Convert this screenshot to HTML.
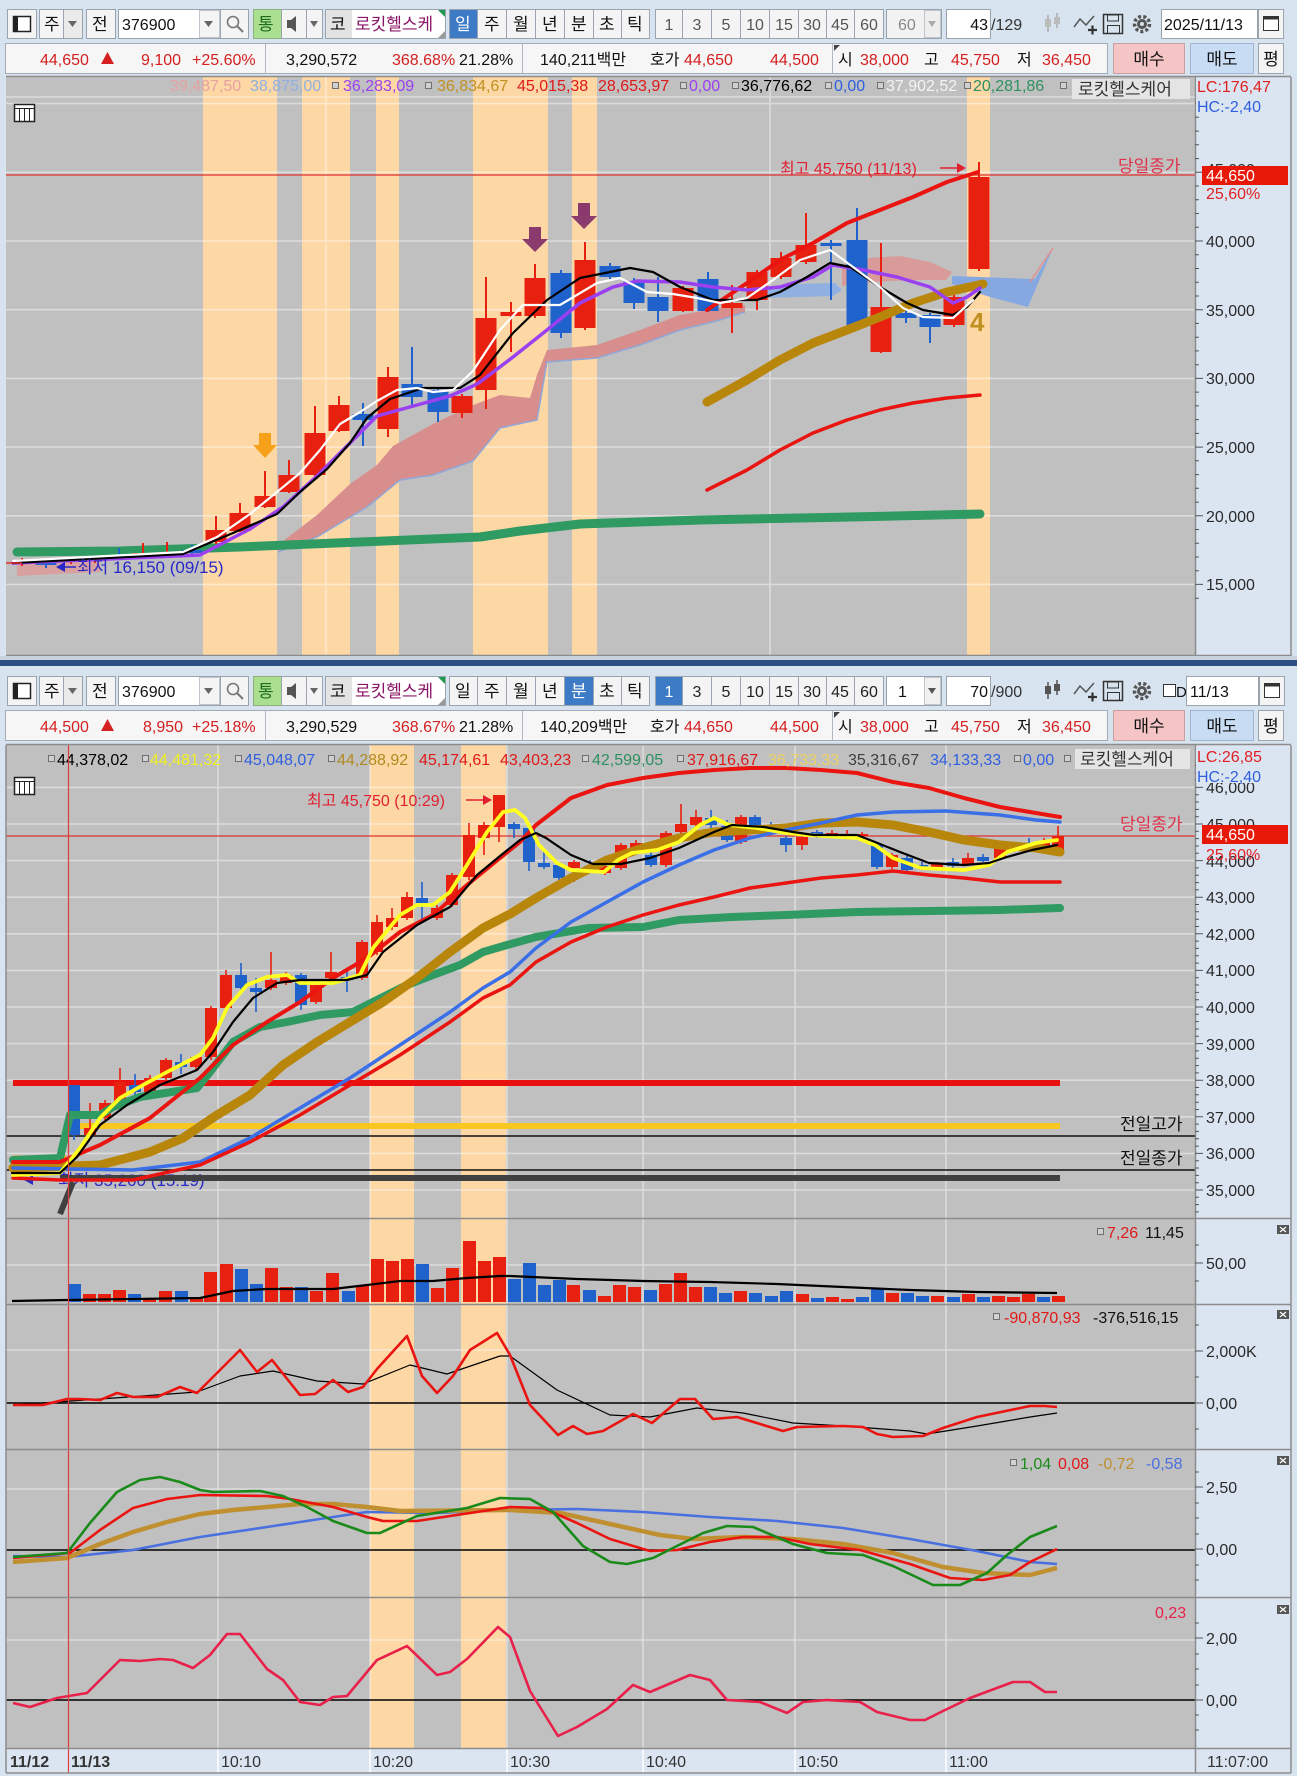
<!DOCTYPE html>
<html><head><meta charset="utf-8">
<style>
html,body{margin:0;padding:0;background:#d8e3f0;width:1297px;height:1776px;overflow:hidden}
svg{display:block}
text{font-family:"Liberation Sans","Noto Sans CJK KR",sans-serif;}
</style></head><body>
<svg xmlns="http://www.w3.org/2000/svg" width="1297" height="1776" viewBox="0 0 1297 1776">
<rect width="1297" height="1776" fill="#d8e3f0"/>

<!-- ================= TOP TOOLBAR ================= -->
<g font-size="17" fill="#111">
 <rect x="7.5" y="9.5" width="29" height="29" fill="#f4f4f4" stroke="#9aa3ae"/>
 <rect x="13.5" y="16.5" width="17" height="15" fill="#fff" stroke="#222" stroke-width="1.5"/>
 <rect x="13" y="16" width="5" height="16" fill="#222"/>
 <rect x="39.5" y="9.5" width="43" height="29" fill="#f4f4f4" stroke="#9aa3ae"/>
 <text x="44" y="30">주</text>
 <rect x="63.5" y="9.5" width="19" height="29" fill="#eaeaea" stroke="#9aa3ae"/>
 <path d="M68 21h9l-4.5 6z" fill="#666"/>
 <rect x="86.5" y="9.5" width="29" height="29" fill="#f4f4f4" stroke="#9aa3ae"/>
 <text x="92" y="30">전</text>
 <rect x="118.5" y="9.5" width="101" height="29" fill="#fff" stroke="#9aa3ae"/>
 <text x="122" y="30" font-size="16">376900</text>
 <rect x="199.5" y="10.5" width="20" height="27" fill="#f4f4f4" stroke="#c0c6ce"/>
 <path d="M204 21h9l-4.5 6z" fill="#666"/>
 <rect x="220.5" y="9.5" width="28" height="29" fill="#f4f4f4" stroke="#9aa3ae"/>
 <circle cx="233" cy="22" r="5.5" fill="none" stroke="#777" stroke-width="1.6"/>
 <path d="M237 26l6 6" stroke="#777" stroke-width="2"/>
 <rect x="253.5" y="9.5" width="28" height="29" fill="#a9df8e" stroke="#8fb07c"/>
 <text x="258" y="30" fill="#1f6b1f">통</text>
 <rect x="281.5" y="9.5" width="25" height="29" fill="#f4f4f4" stroke="#9aa3ae"/>
 <path d="M287 20h4l5-4v16l-5-4h-4z" fill="#555"/>
 <rect x="306.5" y="9.5" width="16" height="29" fill="#f4f4f4" stroke="#9aa3ae"/>
 <path d="M310 21h8l-4 6z" fill="#666"/>
 <rect x="325.5" y="9.5" width="120" height="29" fill="#fff" stroke="#9aa3ae"/>
 <rect x="326" y="10" width="26" height="28" fill="#e3e3e3"/>
 <text x="330" y="30">코</text>
 <text x="355" y="30" fill="#8a1466">로킷헬스케</text>
 <path d="M438 10h7v7z" fill="#1a9a4a"/>
 <path d="M445 31v7h-7z" fill="#999"/>
 <rect x="449.5" y="9.5" width="28" height="29" fill="#3d7bc6" stroke="#9aa3ae"/><text x="455" y="30" fill="#fff">일</text>
 <rect x="477.5" y="9.5" width="29" height="29" fill="#f4f4f4" stroke="#9aa3ae"/><text x="484" y="30">주</text>
 <rect x="506.5" y="9.5" width="29" height="29" fill="#f4f4f4" stroke="#9aa3ae"/><text x="513" y="30">월</text>
 <rect x="535.5" y="9.5" width="29" height="29" fill="#f4f4f4" stroke="#9aa3ae"/><text x="542" y="30">년</text>
 <rect x="564.5" y="9.5" width="29" height="29" fill="#f4f4f4" stroke="#9aa3ae"/><text x="571" y="30">분</text>
 <rect x="593.5" y="9.5" width="28" height="29" fill="#f4f4f4" stroke="#9aa3ae"/><text x="599" y="30">초</text>
 <rect x="621.5" y="9.5" width="28" height="29" fill="#f4f4f4" stroke="#9aa3ae"/><text x="627" y="30">틱</text>
 <g font-size="16" fill="#555" text-anchor="middle">
  <rect x="655.5" y="9.5" width="27" height="29" fill="#f4f4f4" stroke="#9aa3ae"/><text x="669" y="30">1</text>
  <rect x="682.5" y="9.5" width="29" height="29" fill="#f4f4f4" stroke="#9aa3ae"/><text x="697" y="30">3</text>
  <rect x="711.5" y="9.5" width="29" height="29" fill="#f4f4f4" stroke="#9aa3ae"/><text x="726" y="30">5</text>
  <rect x="740.5" y="9.5" width="29" height="29" fill="#f4f4f4" stroke="#9aa3ae"/><text x="755" y="30">10</text>
  <rect x="769.5" y="9.5" width="29" height="29" fill="#f4f4f4" stroke="#9aa3ae"/><text x="784" y="30">15</text>
  <rect x="798.5" y="9.5" width="28" height="29" fill="#f4f4f4" stroke="#9aa3ae"/><text x="812" y="30">30</text>
  <rect x="826.5" y="9.5" width="28" height="29" fill="#f4f4f4" stroke="#9aa3ae"/><text x="840" y="30">45</text>
  <rect x="854.5" y="9.5" width="29" height="29" fill="#f4f4f4" stroke="#9aa3ae"/><text x="869" y="30">60</text>
 </g>
 <rect x="886.5" y="9.5" width="55" height="29" fill="#f2f2f2" stroke="#9aa3ae"/>
 <text x="898" y="30" font-size="16" fill="#888">60</text>
 <rect x="924.5" y="10.5" width="16" height="27" fill="#eee" stroke="#c0c6ce"/>
 <path d="M928 21h8l-4 6z" fill="#aaa"/>
 <rect x="946.5" y="9.5" width="44" height="29" fill="#fff" stroke="#9aa3ae"/>
 <text x="988" y="30" font-size="16" text-anchor="end">43</text>
 <text x="991" y="30" font-size="16" fill="#333">/129</text>
 <path d="M1048 15v17M1057 13v15" stroke="#aaa" stroke-width="1.5"/>
 <rect x="1045" y="19" width="6" height="8" fill="#bbb"/><rect x="1054" y="17" width="6" height="7" fill="#bbb"/>
 <polyline points="1074,27 1080,19 1086,25 1094,16" stroke="#555" stroke-width="1.5" fill="none"/>
 <path d="M1088 30h9M1092.5 25.5v9" stroke="#333" stroke-width="2.2"/>
 <rect x="1103.5" y="14.5" width="19" height="19" fill="none" stroke="#333" stroke-width="1.5"/>
 <rect x="1107.5" y="15" width="11" height="6" fill="none" stroke="#333"/>
 <rect x="1107.5" y="25.5" width="12" height="8" fill="none" stroke="#333"/>
 <circle cx="1142" cy="24" r="7.5" fill="none" stroke="#555" stroke-width="3.5" stroke-dasharray="3 2.2"/>
 <circle cx="1142" cy="24" r="5" fill="#555"/><circle cx="1142" cy="24" r="2" fill="#d8e3f0"/>
 <rect x="1161.5" y="9.5" width="96" height="29" fill="#fff" stroke="#9aa3ae"/>
 <text x="1164" y="30" font-size="16">2025/11/13</text>
 <rect x="1258.5" y="9.5" width="25" height="29" fill="#f4f4f4" stroke="#9aa3ae"/>
 <rect x="1263.5" y="16.5" width="15" height="14" fill="#fff" stroke="#333"/><rect x="1263.5" y="16.5" width="15" height="3" fill="#333"/>
</g>
<!-- info row top -->
<g font-size="16" fill="#111">
 <rect x="5.5" y="43.5" width="1102" height="30" fill="#f6f6f6" stroke="#a3abb6"/>
 <path d="M265.5 44v29M522.5 44v29M832.5 44v29" stroke="#b0b8c2"/>
 <text x="40" y="65" fill="#d42020">44,650</text>
 <path d="M101 64l6.5-12 6.5 12z" fill="#d42020"/>
 <text x="141" y="65" fill="#d42020">9,100</text>
 <text x="192" y="65" fill="#d42020">+25.60%</text>
 <text x="286" y="65">3,290,572</text>
 <text x="392" y="65" fill="#d42020">368.68%</text>
 <text x="459" y="65">21.28%</text>
 <text x="540" y="65">140,211백만</text>
 <text x="650" y="65">호가</text>
 <text x="684" y="65" fill="#d42020">44,650</text>
 <text x="770" y="65" fill="#d42020">44,500</text>
 <path d="M834 45h6l-6 6z" fill="#444"/>
 <text x="838" y="65">시</text>
 <text x="860" y="65" fill="#d42020">38,000</text>
 <text x="924" y="65">고</text>
 <text x="951" y="65" fill="#d42020">45,750</text>
 <text x="1017" y="65">저</text>
 <text x="1042" y="65" fill="#d42020">36,450</text>
 <rect x="1113.5" y="43.5" width="71" height="30" fill="#f5c5c5" stroke="#c8a0a0"/>
 <text x="1149" y="65" text-anchor="middle" font-size="17">매수</text>
 <rect x="1190.5" y="43.5" width="63" height="30" fill="#c8dcf4" stroke="#9fb4d0"/>
 <text x="1222" y="65" text-anchor="middle" font-size="17">매도</text>
 <rect x="1258.5" y="43.5" width="25" height="30" fill="#f4f4f4" stroke="#9aa3ae"/>
 <text x="1271" y="65" text-anchor="middle" font-size="17">평</text>
</g>

<!-- ================= TOP CHART ================= -->
<rect x="5" y="76" width="1287" height="580" fill="#dbe5f2"/>
<rect x="6" y="77" width="1189" height="578" fill="#c0c0c0"/>
<g fill="#fdd7a4">
 <rect x="203" y="77" width="74" height="578"/>
 <rect x="302" y="77" width="48" height="578"/>
 <rect x="376" y="77" width="23" height="578"/>
 <rect x="473" y="77" width="75" height="578"/>
 <rect x="572" y="77" width="25" height="578"/>
 <rect x="967" y="77" width="23" height="578"/>
</g>
<path stroke="#ffffff" stroke-opacity="0.45" stroke-width="1.6" d="M6 97H1195M6 103.6H1195M6 172.3H1195M6 241H1195M6 309.7H1195M6 378.4H1195M6 447.1H1195M6 515.8H1195M6 584.4H1195M326 77V655M770 77V655"/>
<!-- table icon -->
<rect x="14.5" y="104.5" width="20" height="17" fill="#fff" stroke="#222" stroke-width="1.5"/>
<path d="M15 108.5h19M19.5 109v12M24.5 109v12M29.5 109v12" stroke="#222"/>
<!-- price line -->
<path d="M6 175H1195" stroke="#e03030" stroke-width="1.3"/>
<!-- cloud -->
<polygon fill="#d9a0a0" points="17,559 100,559 100,572 17,576"/>
<polygon fill="#d98e8e" points="278,545 317,515 350,484 377,465 393,446 433,424 473,405 500,395 530,398 537,375 547,350 597,345 640,330 680,315 720,308 745,305 745,312 720,320 680,330 640,345 597,358 547,362 537,420 500,428 473,461 433,475 400,480 367,507 317,537 278,552"/>
<polyline fill="none" stroke="#8fa8d8" stroke-width="1.5" points="278,552 317,537 367,507 400,480 433,475 473,461 500,428 537,420 547,362 597,358 640,345 680,330 720,320 745,312"/>
<polygon fill="#8fb0e0" points="755,290 800,284 835,283 842,290 833,296 800,297 755,298"/>
<polygon fill="#d99a9a" points="842,268 870,258 900,256 930,262 952,272 946,280 920,280 890,281 860,283 842,286"/>
<polygon fill="#86a8e0" points="952,276 1035,279 1053,248 1028,307 990,297 952,284"/>
<polyline fill="none" stroke="#e09090" stroke-width="1.5" points="1030,282 1053,248"/>
<!-- green thick -->
<polyline fill="none" stroke="#2f9a62" stroke-width="9" stroke-linecap="round" stroke-linejoin="round" points="17,552 120,551 240,547 360,542 480,537 520,531 580,524 700,520 850,517 980,514"/>
<!-- candles top -->
<path stroke="#e8200f" stroke-width="2" d="M22 558V566M71 558V564M95 557V563M143 543V558M167 542V557M216 516V544M240 503V532M265 471V508M289 460V493M315 406V476M339 396V432M388 367V437M462 394V418M486 277V409M511 302V352M535 264V318M585 242V330M683 286V312M732 285V333M757 270V310M781 252V279M806 213V264M881 243V353M954 295V327M979 162V271"/>
<path fill="#e8200f" d="M11.5 561h21v3h-21zM60.5 560h21v2h-21zM84.5 559h21v2h-21zM132.5 553h21v3h-21zM156.5 552h21v3h-21zM205.5 530h21v12h-21zM229.5 513h21v18h-21zM254.5 496h21v11h-21zM278.5 475h21v17h-21zM304.5 433h21v42h-21zM328.5 405h21v26h-21zM377.5 377h21v52h-21zM451.5 396h21v17h-21zM475.5 318h21v72h-21zM500.5 312h21v4h-21zM524.5 278h21v38h-21zM574.5 260h21v68h-21zM672.5 288h21v23h-21zM721.5 303h21v5h-21zM746.5 272h21v28h-21zM770.5 258h21v19h-21zM795.5 245h21v17h-21zM870.5 307h21v45h-21zM943.5 297h21v28h-21zM968.5 177h21v92h-21z"/>
<path stroke="#1f62cc" stroke-width="2" d="M46 560V568M119 548V560M192 545V556M363 403V446M412 347V405M438 388V422M561 270V338M610 263V280M634 278V309M658 277V322M708 272V312M831 240V300M857 208V327M906 308V323M930 313V343"/>
<path fill="#1f62cc" d="M35.5 562h21v3h-21zM108.5 556h21v2h-21zM181.5 550h21v3h-21zM352.5 414h21v6h-21zM401.5 384h21v13h-21zM427.5 390h21v22h-21zM550.5 273h21v60h-21zM599.5 266h21v11h-21zM623.5 281h21v22h-21zM647.5 297h21v14h-21zM697.5 279h21v32h-21zM820.5 243h21v3h-21zM846.5 240h21v85h-21zM895.5 313h21v5h-21zM919.5 315h21v12h-21z"/>
<!-- lines top -->
<g fill="none" stroke-linecap="round" stroke-linejoin="round">
 <polyline stroke="#ea1410" stroke-width="3.5" points="707,490 747,470 780,450 813,433 847,420 880,410 913,403 947,398 980,395"/>
 <polyline stroke="#ea1410" stroke-width="4" points="707,310 747,283 780,260 813,243 847,223 880,210 913,197 947,182 978,172"/>
 <polyline stroke="#b8860b" stroke-width="9" points="707,402 747,380 780,360 813,343 847,330 880,317 913,303 947,292 983,284"/>
 <polyline stroke="#9b40f0" stroke-width="3.5" points="13,563 200,555 250,529 283,507 317,476 350,443 377,416 417,405 450,396 473,386 480,382 513,357 547,330 580,303 613,287 637,281 680,282 713,287 747,290 780,287 813,277 833,265 863,270 897,277 930,287 953,303 967,297 980,288"/>
 <polyline stroke="#000" stroke-width="2.2" points="13,563 183,554 233,533 277,514 300,492 327,469 350,443 367,418 390,399 423,388 460,388 480,375 513,333 547,300 580,278 630,268 653,272 680,287 713,300 757,300 780,292 807,277 830,263 850,267 880,287 907,303 923,310 953,315 967,307 980,292"/>
 <polyline stroke="#fff" stroke-width="2.2" points="13,561 183,552 217,537 250,514 277,492 300,473 320,450 340,424 360,412 377,401 397,390 417,388 433,392 453,390 473,371 500,330 523,305 560,305 597,283 620,278 647,292 673,294 697,298 720,303 747,298 773,280 800,260 830,250 853,267 880,287 903,308 923,317 953,318 973,300"/>
</g>
<!-- arrows -->
<path d="M259 433h12v12h6l-12 13-12-13h6z" fill="#f7a01a"/>
<path d="M529 227h12v12h7l-13 13-13-13h7z" fill="#8b3a6e"/>
<path d="M578 203h12v13h7l-13 13-13-13h7z" fill="#8b3a6e"/>
<text x="970" y="331" font-size="26" font-weight="bold" fill="#c09020">4</text>
<!-- annotations -->
<path d="M6 563h16" stroke="#e03030" stroke-width="1.5"/>
<path d="M56 567l9-5v10z" fill="#2828c8"/><path d="M62 567h14" stroke="#2828c8" stroke-width="1.5"/>
<text x="77" y="573" font-size="17" fill="#2828c8">최저 16,150 (09/15)</text>
<text x="780" y="174" font-size="16" fill="#e02030">최고 45,750 (11/13)</text>
<path d="M940 168h20" stroke="#e02030" stroke-width="1.6"/><path d="M957 163l9 5-9 5z" fill="#e02030"/>
<text x="1118" y="172" font-size="17" fill="#e0304a">당일종가</text>
<!-- top legend -->
<g font-size="16">
 <text x="170" y="91" fill="#e6a2a2">39,487,50</text>
 <text x="250" y="91" fill="#90b0e0">38,875,00</text>
 <rect x="332.5" y="82.5" width="6" height="6" fill="#d0d0d0" stroke="#707070"/>
 <text x="343" y="91" fill="#9b3ff0">36,283,09</text>
 <rect x="425.5" y="82.5" width="6" height="6" fill="#d0d0d0" stroke="#707070"/>
 <text x="437" y="91" fill="#c09020">36,834,67</text>
 <text x="517" y="91" fill="#e01818">45,015,38</text>
 <text x="598" y="91" fill="#e01818">28,653,97</text>
 <rect x="680.5" y="82.5" width="6" height="6" fill="#d0d0d0" stroke="#707070"/>
 <text x="689" y="91" fill="#9b3ff0">0,00</text>
 <rect x="732.5" y="82.5" width="6" height="6" fill="#d0d0d0" stroke="#707070"/>
 <text x="741" y="91" fill="#000">36,776,62</text>
 <rect x="825.5" y="82.5" width="6" height="6" fill="#d0d0d0" stroke="#707070"/>
 <text x="834" y="91" fill="#2f5fe0">0,00</text>
 <rect x="877.5" y="82.5" width="6" height="6" fill="#d0d0d0" stroke="#707070"/>
 <text x="886" y="91" fill="#f4f4f4">37,902,52</text>
 <rect x="964.5" y="82.5" width="6" height="6" fill="#d0d0d0" stroke="#707070"/>
 <text x="973" y="91" fill="#2e9060">20,281,86</text>
 <rect x="1060.5" y="82.5" width="6" height="6" fill="#d0d0d0" stroke="#707070"/>
 <rect x="1072" y="79" width="118" height="20" fill="#e4e4e4"/>
 <text x="1078" y="95" font-size="17" fill="#333">로킷헬스케어</text>
</g>
<!-- top axis -->
<path stroke="#8c8c8c" stroke-width="1.5" d="M6 76.5H1291M6 655.5H1291M1195.5 77V655M1291 77V656"/>
<path stroke="#555" d="M1195 103.6h8M1195 172.3h8M1195 241h8M1195 309.7h8M1195 378.4h8M1195 447.1h8M1195 515.8h8M1195 584.4h8M1195 598.2h4M1195 570.8h4M1195 557h4M1195 543.3h4M1195 529.5h4M1195 502.1h4M1195 488.3h4M1195 474.6h4M1195 460.8h4M1195 433.4h4M1195 419.6h4M1195 405.9h4M1195 392.1h4M1195 364.7h4M1195 350.9h4M1195 337.2h4M1195 323.4h4M1195 296h4M1195 282.2h4M1195 268.5h4M1195 254.7h4M1195 227.3h4M1195 213.5h4M1195 199.8h4M1195 186h4M1195 158.6h4M1195 144.8h4M1195 131.1h4M1195 117.3h4"/>
<g font-size="16" fill="#2a2a2a">
 <text x="1206" y="175">45,000</text>
 <text x="1206" y="247">40,000</text>
 <text x="1206" y="316">35,000</text>
 <text x="1206" y="384">30,000</text>
 <text x="1206" y="453">25,000</text>
 <text x="1206" y="522">20,000</text>
 <text x="1206" y="590">15,000</text>
</g>
<rect x="1202" y="166" width="86" height="19" fill="#e81808"/>
<text x="1206" y="181" font-size="16" fill="#fff">44,650</text>
<text x="1206" y="199" font-size="16" fill="#e02020">25,60%</text>
<rect x="1196" y="78" width="94" height="37" fill="#dbe5f2"/>
<text x="1197" y="92" font-size="16" fill="#e02020">LC:176,47</text>
<text x="1197" y="112" font-size="16" fill="#2f5fe0">HC:-2,40</text>

<!-- separator -->
<rect x="0" y="656" width="1297" height="4" fill="#c9d2dc"/>
<rect x="0" y="660" width="1297" height="6" fill="#2e4f82"/>

<!-- ================= BOTTOM TOOLBAR ================= -->
<g transform="translate(0,667)" font-size="17" fill="#111">
 <rect x="7.5" y="9.5" width="29" height="29" fill="#f4f4f4" stroke="#9aa3ae"/>
 <rect x="13.5" y="16.5" width="17" height="15" fill="#fff" stroke="#222" stroke-width="1.5"/>
 <rect x="13" y="16" width="5" height="16" fill="#222"/>
 <rect x="39.5" y="9.5" width="43" height="29" fill="#f4f4f4" stroke="#9aa3ae"/>
 <text x="44" y="30">주</text>
 <rect x="63.5" y="9.5" width="19" height="29" fill="#eaeaea" stroke="#9aa3ae"/>
 <path d="M68 21h9l-4.5 6z" fill="#666"/>
 <rect x="86.5" y="9.5" width="29" height="29" fill="#f4f4f4" stroke="#9aa3ae"/>
 <text x="92" y="30">전</text>
 <rect x="118.5" y="9.5" width="101" height="29" fill="#fff" stroke="#9aa3ae"/>
 <text x="122" y="30" font-size="16">376900</text>
 <rect x="199.5" y="10.5" width="20" height="27" fill="#f4f4f4" stroke="#c0c6ce"/>
 <path d="M204 21h9l-4.5 6z" fill="#666"/>
 <rect x="220.5" y="9.5" width="28" height="29" fill="#f4f4f4" stroke="#9aa3ae"/>
 <circle cx="233" cy="22" r="5.5" fill="none" stroke="#777" stroke-width="1.6"/>
 <path d="M237 26l6 6" stroke="#777" stroke-width="2"/>
 <rect x="253.5" y="9.5" width="28" height="29" fill="#a9df8e" stroke="#8fb07c"/>
 <text x="258" y="30" fill="#1f6b1f">통</text>
 <rect x="281.5" y="9.5" width="25" height="29" fill="#f4f4f4" stroke="#9aa3ae"/>
 <path d="M287 20h4l5-4v16l-5-4h-4z" fill="#555"/>
 <rect x="306.5" y="9.5" width="16" height="29" fill="#f4f4f4" stroke="#9aa3ae"/>
 <path d="M310 21h8l-4 6z" fill="#666"/>
 <rect x="325.5" y="9.5" width="120" height="29" fill="#fff" stroke="#9aa3ae"/>
 <rect x="326" y="10" width="26" height="28" fill="#e3e3e3"/>
 <text x="330" y="30">코</text>
 <text x="355" y="30" fill="#8a1466">로킷헬스케</text>
 <path d="M438 10h7v7z" fill="#1a9a4a"/>
 <path d="M445 31v7h-7z" fill="#999"/>
 <rect x="449.5" y="9.5" width="28" height="29" fill="#f4f4f4" stroke="#9aa3ae"/><text x="455" y="30">일</text>
 <rect x="477.5" y="9.5" width="29" height="29" fill="#f4f4f4" stroke="#9aa3ae"/><text x="484" y="30">주</text>
 <rect x="506.5" y="9.5" width="29" height="29" fill="#f4f4f4" stroke="#9aa3ae"/><text x="513" y="30">월</text>
 <rect x="535.5" y="9.5" width="29" height="29" fill="#f4f4f4" stroke="#9aa3ae"/><text x="542" y="30">년</text>
 <rect x="564.5" y="9.5" width="29" height="29" fill="#3d7bc6" stroke="#9aa3ae"/><text x="571" y="30" fill="#fff">분</text>
 <rect x="593.5" y="9.5" width="28" height="29" fill="#f4f4f4" stroke="#9aa3ae"/><text x="599" y="30">초</text>
 <rect x="621.5" y="9.5" width="28" height="29" fill="#f4f4f4" stroke="#9aa3ae"/><text x="627" y="30">틱</text>
 <g font-size="16" fill="#222" text-anchor="middle">
  <rect x="655.5" y="9.5" width="27" height="29" fill="#3d7bc6" stroke="#9aa3ae"/><text x="669" y="30" fill="#fff">1</text>
  <rect x="682.5" y="9.5" width="29" height="29" fill="#f4f4f4" stroke="#9aa3ae"/><text x="697" y="30">3</text>
  <rect x="711.5" y="9.5" width="29" height="29" fill="#f4f4f4" stroke="#9aa3ae"/><text x="726" y="30">5</text>
  <rect x="740.5" y="9.5" width="29" height="29" fill="#f4f4f4" stroke="#9aa3ae"/><text x="755" y="30">10</text>
  <rect x="769.5" y="9.5" width="29" height="29" fill="#f4f4f4" stroke="#9aa3ae"/><text x="784" y="30">15</text>
  <rect x="798.5" y="9.5" width="28" height="29" fill="#f4f4f4" stroke="#9aa3ae"/><text x="812" y="30">30</text>
  <rect x="826.5" y="9.5" width="28" height="29" fill="#f4f4f4" stroke="#9aa3ae"/><text x="840" y="30">45</text>
  <rect x="854.5" y="9.5" width="29" height="29" fill="#f4f4f4" stroke="#9aa3ae"/><text x="869" y="30">60</text>
 </g>
 <rect x="886.5" y="9.5" width="55" height="29" fill="#fff" stroke="#9aa3ae"/>
 <text x="898" y="30" font-size="16">1</text>
 <rect x="924.5" y="10.5" width="16" height="27" fill="#f0f0f0" stroke="#c0c6ce"/>
 <path d="M928 21h8l-4 6z" fill="#555"/>
 <rect x="946.5" y="9.5" width="44" height="29" fill="#fff" stroke="#9aa3ae"/>
 <text x="988" y="30" font-size="16" text-anchor="end">70</text>
 <text x="991" y="30" font-size="16" fill="#333">/900</text>
 <path d="M1048 15v17M1057 13v15" stroke="#555" stroke-width="1.5"/>
 <rect x="1045" y="19" width="6" height="8" fill="#555"/><rect x="1054" y="17" width="6" height="7" fill="#555"/>
 <polyline points="1074,27 1080,19 1086,25 1094,16" stroke="#555" stroke-width="1.5" fill="none"/>
 <path d="M1088 30h9M1092.5 25.5v9" stroke="#333" stroke-width="2.2"/>
 <rect x="1103.5" y="14.5" width="19" height="19" fill="none" stroke="#333" stroke-width="1.5"/>
 <rect x="1107.5" y="15" width="11" height="6" fill="none" stroke="#333"/>
 <rect x="1107.5" y="25.5" width="12" height="8" fill="none" stroke="#333"/>
 <circle cx="1142" cy="24" r="7.5" fill="none" stroke="#555" stroke-width="3.5" stroke-dasharray="3 2.2"/>
 <circle cx="1142" cy="24" r="5" fill="#555"/><circle cx="1142" cy="24" r="2" fill="#d8e3f0"/>
 <rect x="1163.5" y="17.5" width="12" height="12" fill="#fff" stroke="#333"/>
 <text x="1176" y="30" font-size="15">D</text>
 <rect x="1186.5" y="9.5" width="72" height="29" fill="#fff" stroke="#9aa3ae"/>
 <text x="1190" y="30" font-size="16">11/13</text>
 <rect x="1259.5" y="9.5" width="25" height="29" fill="#f4f4f4" stroke="#9aa3ae"/>
 <rect x="1264.5" y="16.5" width="15" height="14" fill="#fff" stroke="#333"/><rect x="1264.5" y="16.5" width="15" height="3" fill="#333"/>
</g>
<g transform="translate(0,667)" font-size="16" fill="#111">
 <rect x="5.5" y="43.5" width="1102" height="30" fill="#f6f6f6" stroke="#a3abb6"/>
 <path d="M265.5 44v29M522.5 44v29M832.5 44v29" stroke="#b0b8c2"/>
 <text x="40" y="65" fill="#d42020">44,500</text>
 <path d="M101 64l6.5-12 6.5 12z" fill="#d42020"/>
 <text x="143" y="65" fill="#d42020">8,950</text>
 <text x="192" y="65" fill="#d42020">+25.18%</text>
 <text x="286" y="65">3,290,529</text>
 <text x="392" y="65" fill="#d42020">368.67%</text>
 <text x="459" y="65">21.28%</text>
 <text x="540" y="65">140,209백만</text>
 <text x="650" y="65">호가</text>
 <text x="684" y="65" fill="#d42020">44,650</text>
 <text x="770" y="65" fill="#d42020">44,500</text>
 <path d="M834 45h6l-6 6z" fill="#444"/>
 <text x="838" y="65">시</text>
 <text x="860" y="65" fill="#d42020">38,000</text>
 <text x="924" y="65">고</text>
 <text x="951" y="65" fill="#d42020">45,750</text>
 <text x="1017" y="65">저</text>
 <text x="1042" y="65" fill="#d42020">36,450</text>
 <rect x="1113.5" y="43.5" width="71" height="30" fill="#f5c5c5" stroke="#c8a0a0"/>
 <text x="1149" y="65" text-anchor="middle" font-size="17">매수</text>
 <rect x="1190.5" y="43.5" width="63" height="30" fill="#c8dcf4" stroke="#9fb4d0"/>
 <text x="1222" y="65" text-anchor="middle" font-size="17">매도</text>
 <rect x="1258.5" y="43.5" width="25" height="30" fill="#f4f4f4" stroke="#9aa3ae"/>
 <text x="1271" y="65" text-anchor="middle" font-size="17">평</text>
</g>

<!-- ================= BOTTOM CHART ================= -->
<rect x="5" y="744" width="1287" height="1030" fill="#dbe5f2"/>
<rect x="6" y="745" width="1189" height="1003" fill="#c0c0c0"/>
<g fill="#fdd7a4">
 <rect x="370" y="745" width="44" height="1003"/>
 <rect x="461" y="745" width="45" height="1003"/>
</g>
<path stroke="#ffffff" stroke-opacity="0.45" stroke-width="1.6" d="M6 787.4H1195M6 824H1195M6 860.6H1195M6 897.2H1195M6 933.8H1195M6 970.4H1195M6 1007H1195M6 1043.6H1195M6 1080.2H1195M6 1116.8H1195M6 1153.4H1195M6 1190H1195M6 1265H1195M6 1350H1195M6 1489H1195M6 1640H1195M218 745V1773M370 745V1773M507 745V1773M643 745V1773M795 745V1773M946 745V1773"/>
<!-- x axis band -->
<rect x="6" y="1749" width="1285" height="24" fill="#dbe5f2"/>
<path stroke="#ffffff" stroke-width="1.5" d="M218 1749V1773M370 1749V1773M507 1749V1773M643 1749V1773M795 1749V1773M946 1749V1773"/>
<!-- table icon -->
<rect x="14.5" y="777.5" width="20" height="17" fill="#fff" stroke="#222" stroke-width="1.5"/>
<path d="M15 781.5h19M19.5 782v12M24.5 782v12M29.5 782v12" stroke="#222"/>
<!-- price lines / horizontals -->
<path d="M6 836H1195" stroke="#e03030" stroke-width="1.3"/>
<path d="M6 1136H1195M6 1170H1195" stroke="#111" stroke-width="1.4"/>
<text x="58" y="1186" font-size="17" fill="#2828c8">최저 35,200 (15:19)</text>
<path d="M24 1180l9-5v10z" fill="#2828c8"/><path d="M30 1180h15" stroke="#2828c8" stroke-width="1.5"/>
<path d="M13 1083H1060" stroke="#ea1010" stroke-width="6"/>
<path d="M77 1126H1060" stroke="#f8c820" stroke-width="6"/>
<path d="M60 1178H1060" stroke="#404040" stroke-width="6"/>
<path d="M60 1214L73 1182" stroke="#404040" stroke-width="6"/>
<path d="M13 1158H66" stroke="#f4b000" stroke-width="5"/>
<!-- candles bottom -->
<path stroke="#e8200f" stroke-width="1.6" d="M90 1103V1136M105 1100V1120M120 1068V1105M150 1075V1095M166 1058V1080M196 1055V1070M211 1006V1060M226 970V1010M271 952V990M286 972V985M316 983V1004M331 952V980M362 940V980M377 915V955M392 908V930M407 892V920M437 905V920M452 873V907M469 823V880M484 822V855M499 795V842M574 860V882M605 862V875M621 843V870M636 840V850M666 831V867M681 804V834M696 810V827M741 815V844M802 835V850M832 830V838M847 830V838M862 832V838M892 853V869M937 862V870M968 853V866M1000 845V860M1014 843V852M1044 838V850M1058 826V856"/>
<path fill="#e8200f" d="M84 1128h12v7h-12zM99 1103h12v15h-12zM114 1082h12v21h-12zM144 1078h12v15h-12zM160 1060h12v18h-12zM190 1057h12v10h-12zM205 1008h12v49h-12zM220 975h12v33h-12zM265 980h12v8h-12zM280 975h12v8h-12zM310 985h12v17h-12zM325 972h12v6h-12zM356 942h12v36h-12zM371 922h12v30h-12zM386 918h12v9h-12zM401 897h12v21h-12zM431 908h12v10h-12zM446 875h12v30h-12zM463 835h12v42h-12zM478 825h12v13h-12zM493 795h12v32h-12zM568 862h12v6h-12zM599 866h12v7h-12zM615 845h12v23h-12zM630 843h12v5h-12zM660 833h12v32h-12zM675 824h12v8h-12zM690 817h12v8h-12zM735 817h12v25h-12zM796 837h12v8h-12zM826 833h12v2h-12zM841 834h12v2h-12zM856 834h12v2h-12zM886 855h12v12h-12zM931 864h12v4h-12zM962 858h12v7h-12zM994 847h12v11h-12zM1008 845h12v5h-12zM1038 842h12v6h-12zM1052 836h12v18h-12z"/>
<path stroke="#1f62cc" stroke-width="1.6" d="M74 1085V1140M135 1074V1102M181 1054V1074M241 963V990M256 978V1012M301 973V1010M347 970V992M422 882V920M514 822V838M529 825V871M544 852V869M559 863V880M590 860V872M651 852V867M711 810V828M727 820V842M755 815V827M771 822V833M786 836V852M817 830V838M877 843V869M907 856V872M922 862V870M953 858V868M983 854V862M1029 838V849"/>
<path fill="#1f62cc" d="M68 1085h12v50h-12zM129 1085h12v7h-12zM175 1062h12v5h-12zM235 975h12v13h-12zM250 988h12v4h-12zM295 975h12v30h-12zM341 977h12v3h-12zM416 898h12v5h-12zM508 824h12v5h-12zM523 828h12v34h-12zM538 863h12v4h-12zM553 865h12v13h-12zM584 866h12v4h-12zM645 855h12v10h-12zM705 818h12v7h-12zM721 826h12v14h-12zM749 817h12v8h-12zM765 826h12v4h-12zM780 838h12v7h-12zM811 832h12v4h-12zM871 845h12v22h-12zM901 858h12v12h-12zM916 865h12v3h-12zM947 862h12v4h-12zM977 857h12v4h-12zM1023 845h12v2h-12z"/>
<!-- lines bottom -->
<g fill="none" stroke-linecap="round" stroke-linejoin="round">
 <polyline stroke="#2f9a62" stroke-width="8" points="13,1160 60,1158 70,1115 100,1115 113,1107 140,1097 197,1088 210,1072 233,1042 260,1027 287,1022 320,1015 353,1012 373,1002 407,985 433,975 460,965 483,952 507,945 536,937 589,928 643,927 679,920 732,917 786,915 857,912 929,911 1000,910 1060,908"/>
 <polyline stroke="#b8860b" stroke-width="9" points="13,1168 100,1165 150,1152 183,1138 217,1115 250,1095 283,1065 317,1042 350,1022 383,1002 417,978 450,952 483,928 510,914 536,898 571,878 607,860 643,848 679,838 714,832 750,830 786,828 821,823 857,822 893,825 929,832 964,840 1000,845 1036,848 1060,852"/>
 <polyline stroke="#3a6fe8" stroke-width="3.5" points="13,1168 133,1170 200,1162 250,1138 300,1108 350,1078 400,1045 450,1012 483,988 510,972 536,948 571,922 607,902 643,882 679,865 714,850 750,838 786,830 821,823 857,815 893,812 946,811 1000,815 1036,820 1060,822"/>
 <polyline stroke="#ea1410" stroke-width="3.5" points="13,1178 60,1180 133,1180 200,1165 250,1142 300,1115 350,1085 400,1055 450,1022 483,998 510,985 536,962 571,942 607,927 643,915 679,905 714,897 750,888 786,883 821,878 857,875 893,871 929,875 964,878 1000,882 1060,882"/>
 <polyline stroke="#ea1410" stroke-width="4" points="13,1162 60,1162 100,1145 150,1118 200,1078 233,1045 267,1022 300,1002 333,978 367,958 400,932 433,915 467,885 500,858 520,842 536,825 571,798 607,785 643,778 679,773 714,770 750,768 786,768 821,770 857,773 893,782 929,788 964,798 1000,807 1060,817"/>
 <polyline stroke="#ffff20" stroke-width="3.8" points="13,1175 60,1173 80,1148 100,1118 120,1098 143,1085 167,1072 200,1055 213,1038 227,1008 247,985 267,977 287,975 300,983 333,983 360,975 373,948 400,915 417,905 433,905 450,892 467,865 487,832 503,812 515,810 525,818 539,845 557,863 571,870 604,872 618,860 632,853 657,850 679,842 700,825 714,818 729,825 757,828 786,833 807,835 857,838 875,845 893,858 921,868 964,870 989,865 1007,852 1036,843 1057,840"/>
 <polyline stroke="#000" stroke-width="2.2" points="12,1173 60,1173 77,1157 100,1125 127,1105 160,1085 197,1070 213,1052 233,1022 253,998 277,983 300,980 347,980 367,975 383,952 417,925 450,907 477,875 500,856 520,840 536,833 546,838 571,855 593,864 621,864 650,858 679,848 714,832 732,825 764,827 793,832 814,835 857,835 875,842 900,852 929,863 964,865 989,863 1007,857 1032,850 1057,845"/>
</g>
<text x="307" y="806" font-size="16" fill="#e02030">최고 45,750 (10:29)</text>
<path d="M466 800h20" stroke="#e02030" stroke-width="1.6"/><path d="M483 795l9 5-9 5z" fill="#e02030"/>
<text x="1120" y="830" font-size="17" fill="#e0304a">당일종가</text>
<text x="1120" y="1130" font-size="17" fill="#111">전일고가</text>
<text x="1120" y="1164" font-size="17" fill="#111">전일종가</text>
<!-- bottom legend -->
<g font-size="16">
 <rect x="48.5" y="755.5" width="6" height="6" fill="#d0d0d0" stroke="#707070"/>
 <text x="57" y="765" fill="#000">44,378,02</text>
 <rect x="142.5" y="755.5" width="6" height="6" fill="#d0d0d0" stroke="#707070"/>
 <text x="150" y="765" fill="#f0f020">44,481,32</text>
 <rect x="235.5" y="755.5" width="6" height="6" fill="#d0d0d0" stroke="#707070"/>
 <text x="244" y="765" fill="#3060e0">45,048,07</text>
 <rect x="328.5" y="755.5" width="6" height="6" fill="#d0d0d0" stroke="#707070"/>
 <text x="337" y="765" fill="#b08a20">44,288,92</text>
 <text x="419" y="765" fill="#e01818">45,174,61</text>
 <text x="500" y="765" fill="#e01818">43,403,23</text>
 <rect x="582.5" y="755.5" width="6" height="6" fill="#d0d0d0" stroke="#707070"/>
 <text x="592" y="765" fill="#2e9060">42,599,05</text>
 <rect x="677.5" y="755.5" width="6" height="6" fill="#d0d0d0" stroke="#707070"/>
 <text x="687" y="765" fill="#e01818">37,916,67</text>
 <text x="768" y="765" fill="#ecd060">36,733,33</text>
 <text x="848" y="765" fill="#404040">35,316,67</text>
 <text x="930" y="765" fill="#3060e0">34,133,33</text>
 <rect x="1014.5" y="755.5" width="6" height="6" fill="#d0d0d0" stroke="#707070"/>
 <text x="1023" y="765" fill="#3060e0">0,00</text>
 <rect x="1064.5" y="755.5" width="6" height="6" fill="#d0d0d0" stroke="#707070"/>
 <rect x="1075" y="749" width="115" height="20" fill="#e4e4e4"/>
 <text x="1080" y="765" font-size="17" fill="#333">로킷헬스케어</text>
</g>
<!-- volume bars -->
<path fill="#e8200f" d="M83 1294h13v8h-13zM98 1294h13v8h-13zM113 1290h13v12h-13zM143 1298h13v4h-13zM159 1291h13v11h-13zM190 1297h13v5h-13zM204 1272h13v30h-13zM220 1264h13v38h-13zM265 1268h13v34h-13zM280 1287h13v15h-13zM310 1291h13v11h-13zM326 1273h13v29h-13zM356 1286h13v16h-13zM371 1259h13v43h-13zM386 1261h13v41h-13zM401 1259h13v43h-13zM431 1288h13v14h-13zM446 1268h13v34h-13zM463 1241h13v61h-13zM478 1261h13v41h-13zM493 1257h13v45h-13zM567 1285h13v17h-13zM598 1296h13v6h-13zM613 1285h13v17h-13zM628 1287h13v15h-13zM659 1284h13v18h-13zM674 1273h13v29h-13zM689 1287h13v15h-13zM734 1291h13v11h-13zM796 1294h13v8h-13zM826 1297h13v5h-13zM841 1299h13v3h-13zM886 1293h13v9h-13zM931 1296h13v6h-13zM962 1294h13v8h-13zM992 1296h13v6h-13zM1007 1297h13v5h-13zM1022 1294h13v8h-13zM1052 1296h13v6h-13z"/>
<path fill="#1f62cc" d="M68 1284h13v18h-13zM128 1294h13v8h-13zM175 1291h13v11h-13zM235 1269h13v33h-13zM250 1284h13v18h-13zM295 1287h13v15h-13zM342 1291h13v11h-13zM416 1264h13v38h-13zM508 1279h13v23h-13zM523 1263h13v39h-13zM538 1285h13v17h-13zM553 1280h13v22h-13zM583 1290h13v12h-13zM644 1290h13v12h-13zM704 1287h13v15h-13zM719 1293h13v9h-13zM749 1293h13v9h-13zM765 1296h13v6h-13zM780 1291h13v11h-13zM811 1298h13v4h-13zM856 1297h13v5h-13zM871 1289h13v13h-13zM901 1293h13v9h-13zM916 1296h13v6h-13zM947 1297h13v5h-13zM977 1297h13v5h-13zM1037 1297h13v5h-13z"/>
<polyline fill="none" stroke="#000" stroke-width="2.2" points="12,1301 67,1300 200,1298 233,1291 267,1289 333,1289 367,1285 400,1281 433,1281 467,1278 500,1276 510,1276 577,1279 643,1281 710,1282 777,1284 843,1287 910,1290 977,1292 1057,1293"/>
<!-- zero lines -->
<path d="M6 1403H1195M6 1550H1195M6 1700H1195" stroke="#000" stroke-width="1.4"/>
<!-- OBV -->
<g fill="none" stroke-linejoin="round">
 <polyline stroke="#000" stroke-width="1.2" points="13,1405 100,1399 197,1392 240,1376 273,1371 317,1381 363,1384 410,1365 447,1374 500,1356 510,1356 557,1390 610,1415 650,1417 697,1408 743,1413 793,1423 843,1426 910,1431 927,1434 977,1426 1030,1417 1057,1413"/>
 <polyline stroke="#ea1410" stroke-width="2.6" points="13,1405 43,1405 67,1399 80,1399 100,1400 117,1393 133,1397 157,1397 180,1387 197,1393 240,1350 257,1372 272,1360 300,1395 315,1394 333,1380 348,1392 363,1387 377,1369 407,1336 422,1376 437,1393 453,1376 470,1350 497,1333 510,1355 530,1405 558,1435 573,1426 587,1434 603,1431 633,1414 652,1423 680,1399 695,1399 713,1419 737,1417 783,1431 797,1427 843,1426 863,1427 877,1434 893,1437 923,1436 943,1428 977,1417 1030,1406 1045,1406 1057,1407"/>
 <!-- P3 -->
 <polyline stroke="#4a70e0" stroke-width="2.6" points="13,1556 67,1557 133,1550 200,1537 267,1527 333,1517 367,1512 433,1513 510,1510 577,1509 643,1512 710,1517 777,1521 843,1528 910,1539 977,1551 1030,1562 1057,1564"/>
 <polyline stroke="#c09030" stroke-width="4.5" points="13,1562 67,1558 100,1544 133,1532 167,1522 200,1514 233,1510 267,1507 300,1504 333,1504 367,1507 400,1511 510,1510 560,1513 610,1524 660,1535 693,1539 743,1537 793,1539 843,1544 893,1553 943,1567 983,1573 1030,1575 1057,1568"/>
 <polyline stroke="#ea1410" stroke-width="2.6" points="13,1558 70,1553 100,1530 133,1508 167,1499 200,1495 267,1496 290,1499 333,1507 367,1517 383,1521 417,1521 450,1516 510,1507 543,1508 577,1523 610,1539 650,1551 677,1550 710,1542 743,1537 777,1537 810,1544 860,1550 910,1564 950,1578 983,1580 1010,1575 1030,1562 1057,1549"/>
 <polyline stroke="#1a8a1a" stroke-width="2.6" points="13,1557 67,1553 90,1523 117,1492 140,1480 160,1477 180,1482 200,1490 213,1492 260,1491 283,1496 307,1507 333,1521 367,1533 380,1533 417,1516 467,1508 500,1498 530,1499 553,1512 583,1546 610,1562 627,1564 653,1558 677,1546 703,1533 727,1526 753,1527 793,1544 827,1553 863,1555 893,1566 933,1585 960,1585 987,1573 1007,1555 1030,1537 1057,1526"/>
 <!-- P4 -->
 <polyline stroke="#e8204a" stroke-width="2.6" points="13,1703 30,1707 57,1698 87,1693 120,1660 140,1661 160,1659 173,1660 193,1668 210,1655 227,1634 240,1634 267,1669 283,1680 300,1702 320,1705 333,1697 347,1696 377,1660 407,1646 437,1675 450,1672 467,1659 498,1627 510,1637 530,1691 558,1736 577,1727 607,1709 633,1685 650,1692 690,1675 710,1680 727,1700 760,1702 787,1713 803,1702 827,1700 860,1702 877,1712 910,1720 925,1720 943,1711 970,1698 1013,1682 1030,1682 1045,1692 1057,1692"/>
</g>
<!-- red vertical date line -->
<path d="M68.5 745V1773" stroke="#e03a3a" stroke-width="1.2"/>
<!-- panel borders -->
<path stroke="#8c8c8c" stroke-width="1.5" d="M6 744.5H1291M6 1218.5H1291M6 1304.5H1291M6 1449.5H1291M6 1597.5H1291M6 1748.5H1291M6 1773H1291M1195.5 745V1773M1291 745V1773M6 745V1773"/>
<!-- sub-panel legends -->
<g font-size="16">
 <rect x="1097.5" y="1228.5" width="6" height="6" fill="#d0d0d0" stroke="#707070"/>
 <text x="1107" y="1238" fill="#e01818">7,26</text>
 <text x="1145" y="1238" fill="#111">11,45</text>
 <rect x="993.5" y="1313.5" width="6" height="6" fill="#d0d0d0" stroke="#707070"/>
 <text x="1004" y="1323" fill="#e01818">-90,870,93</text>
 <text x="1093" y="1323" fill="#111">-376,516,15</text>
 <rect x="1010.5" y="1459.5" width="6" height="6" fill="#d0d0d0" stroke="#707070"/>
 <text x="1020" y="1469" fill="#1a8a1a">1,04</text>
 <text x="1058" y="1469" fill="#e01818">0,08</text>
 <text x="1098" y="1469" fill="#c09030">-0,72</text>
 <text x="1146" y="1469" fill="#4a70e0">-0,58</text>
 <text x="1155" y="1618" fill="#e8204a">0,23</text>
</g>
<!-- close icons -->
<g>
 <rect x="1277" y="1225" width="12" height="9" fill="#555"/>
 <rect x="1277" y="1310" width="12" height="9" fill="#555"/>
 <rect x="1277" y="1456" width="12" height="9" fill="#555"/>
 <rect x="1277" y="1605" width="12" height="9" fill="#555"/>
 <path stroke="#fff" stroke-width="1.2" d="M1280 1227l6 5M1286 1227l-6 5M1280 1312l6 5M1286 1312l-6 5M1280 1458l6 5M1286 1458l-6 5M1280 1607l6 5M1286 1607l-6 5"/>
</g>
<!-- bottom axis ticks -->
<path stroke="#555" d="M1195 787.4h8M1195 824h8M1195 860.6h8M1195 897.2h8M1195 933.8h8M1195 970.4h8M1195 1007h8M1195 1043.6h8M1195 1080.2h8M1195 1116.8h8M1195 1153.4h8M1195 1190h8M1195 1182.7h4M1195 1175.4h4M1195 1168h4M1195 1160.7h4M1195 1146.1h4M1195 1138.8h4M1195 1131.4h4M1195 1124.1h4M1195 1109.5h4M1195 1102.2h4M1195 1094.8h4M1195 1087.5h4M1195 1072.9h4M1195 1065.6h4M1195 1058.2h4M1195 1050.9h4M1195 1036.3h4M1195 1029h4M1195 1021.6h4M1195 1014.3h4M1195 999.7h4M1195 992.4h4M1195 985h4M1195 977.7h4M1195 963.1h4M1195 955.8h4M1195 948.4h4M1195 941.1h4M1195 926.5h4M1195 919.2h4M1195 911.8h4M1195 904.5h4M1195 889.9h4M1195 882.6h4M1195 875.2h4M1195 867.9h4M1195 853.3h4M1195 846h4M1195 838.6h4M1195 831.3h4M1195 816.7h4M1195 809.4h4M1195 802h4M1195 794.7h4M1195 780.1h4M1195 772.8h4M1195 765.4h4M1195 1197.3h4M1195 1204.6h4M1195 1211.9h4M1195 1263h8M1195 1245h4M1195 1281h4M1195 1351h8M1195 1403h8M1195 1325h4M1195 1377h4M1195 1429h4M1195 1487h8M1195 1549h8M1195 1472h4M1195 1503h4M1195 1518h4M1195 1534h4M1195 1565h4M1195 1580h4M1195 1638h8M1195 1700h8M1195 1623h4M1195 1654h4M1195 1669h4M1195 1685h4M1195 1715h4M1195 1730h4"/>
<g font-size="16" fill="#2a2a2a">
 <text x="1206" y="793">46,000</text>
 <text x="1206" y="830">45,000</text>
 <text x="1206" y="867">44,000</text>
 <text x="1206" y="903">43,000</text>
 <text x="1206" y="940">42,000</text>
 <text x="1206" y="976">41,000</text>
 <text x="1206" y="1013">40,000</text>
 <text x="1206" y="1050">39,000</text>
 <text x="1206" y="1086">38,000</text>
 <text x="1206" y="1123">37,000</text>
 <text x="1206" y="1159">36,000</text>
 <text x="1206" y="1196">35,000</text>
 <text x="1206" y="1269">50,00</text>
 <text x="1206" y="1357">2,000K</text>
 <text x="1206" y="1409">0,00</text>
 <text x="1206" y="1493">2,50</text>
 <text x="1206" y="1555">0,00</text>
 <text x="1206" y="1644">2,00</text>
 <text x="1206" y="1706">0,00</text>
</g>
<rect x="1202" y="825" width="86" height="19" fill="#e81808"/>
<text x="1206" y="840" font-size="16" fill="#fff">44,650</text>
<text x="1206" y="860" font-size="16" fill="#e02020">25,60%</text>
<rect x="1196" y="746" width="94" height="37" fill="#dbe5f2"/>
<text x="1197" y="762" font-size="16" fill="#e02020">LC:26,85</text>
<text x="1197" y="782" font-size="16" fill="#2f5fe0">HC:-2,40</text>
<!-- x axis labels -->
<g font-size="16" fill="#333">
 <text x="10" y="1767" font-weight="bold">11/12</text>
 <text x="71" y="1767" font-weight="bold">11/13</text>
 <text x="221" y="1767">10:10</text>
 <text x="373" y="1767">10:20</text>
 <text x="510" y="1767">10:30</text>
 <text x="646" y="1767">10:40</text>
 <text x="798" y="1767">10:50</text>
 <text x="949" y="1767">11:00</text>
 <text x="1207" y="1767">11:07:00</text>
</g>
</svg>
</body></html>
